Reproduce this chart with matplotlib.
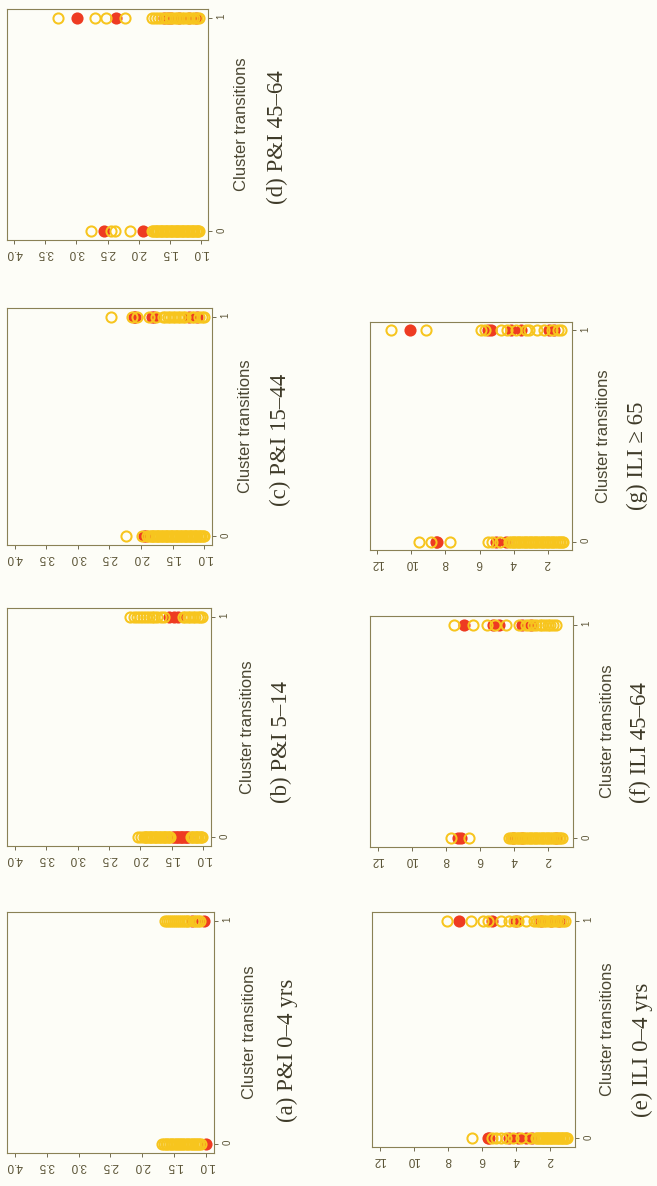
import matplotlib
matplotlib.use('Agg')
import matplotlib.pyplot as plt

plt.rcParams['font.family'] = ['Liberation Sans', 'DejaVu Sans']

# values read per panel: open circles / filled red circles at cluster transition 0 and 1
a_open0 = [1.69, 1.66, 1.63, 1.61, 1.58, 1.56, 1.53, 1.51, 1.48, 1.46, 1.43, 1.41, 1.38, 1.36, 1.33,
           1.31, 1.28, 1.26, 1.23, 1.21, 1.18, 1.16, 1.13, 1.11, 1.09]
a_red0 = [1.01]
a_open1 = [1.64, 1.61, 1.58, 1.55, 1.52, 1.49, 1.46, 1.43, 1.40, 1.37, 1.34, 1.31, 1.28, 1.19,
           1.16, 1.13, 1.10]
a_red1 = [1.23, 1.03]

b_open0 = [2.04, 1.99, 1.95, 1.93, 1.91, 1.89, 1.87, 1.85, 1.83, 1.81, 1.79, 1.77, 1.75, 1.73, 1.71,
           1.69, 1.67, 1.65, 1.63, 1.61, 1.59, 1.57, 1.55, 1.53, 1.20, 1.18, 1.16, 1.14, 1.12, 1.10,
           1.08, 1.06, 1.04, 1.02]
b_red0 = [1.48, 1.46, 1.44, 1.42, 1.40, 1.38, 1.36, 1.34, 1.32, 1.30, 1.28, 1.26, 1.24]
b_open1 = [2.17, 2.10, 2.05, 2.01, 1.96, 1.91, 1.87, 1.82, 1.78, 1.73, 1.68, 1.62, 1.33, 1.29, 1.25,
           1.21, 1.17, 1.13, 1.09, 1.05, 1.02]
b_red1 = [1.54, 1.47, 1.40]

c_open0 = [2.24, 1.99, 1.91, 1.87, 1.85, 1.83, 1.81, 1.79, 1.77, 1.75, 1.73, 1.71, 1.69, 1.67, 1.65,
           1.63, 1.61, 1.59, 1.57, 1.55, 1.53, 1.51, 1.49, 1.47, 1.45, 1.43, 1.41, 1.39, 1.37, 1.35,
           1.33, 1.31, 1.29, 1.27, 1.25, 1.23, 1.21, 1.19, 1.17, 1.15, 1.13, 1.11, 1.09, 1.07, 1.05,
           1.03, 1.01]
c_red0 = [1.95, 1.93]
c_open1 = [2.48, 2.15, 2.06, 1.87, 1.77, 1.66, 1.62, 1.58, 1.54, 1.50, 1.46, 1.42, 1.38, 1.34, 1.30,
           1.20, 1.16, 1.08, 1.04, 1.01]
c_red1 = [2.12, 2.09, 1.83, 1.80, 1.24, 1.11]

d_open0 = [2.76, 2.44, 2.38, 2.14, 1.78, 1.76, 1.74, 1.72, 1.70, 1.68, 1.66, 1.64, 1.62, 1.60, 1.58,
           1.56, 1.54, 1.52, 1.50, 1.48, 1.46, 1.44, 1.42, 1.40, 1.38, 1.36, 1.34, 1.32, 1.30, 1.28,
           1.26, 1.24, 1.22, 1.20, 1.18, 1.16, 1.14, 1.12, 1.10, 1.08, 1.06, 1.04, 1.02]
d_red0 = [2.56, 1.92]
d_open1 = [3.29, 2.70, 2.52, 2.21, 1.78, 1.73, 1.68, 1.63, 1.58, 1.54, 1.50, 1.46, 1.42, 1.38, 1.34,
           1.30, 1.26, 1.22, 1.18, 1.14, 1.10, 1.06, 1.03]
d_red1 = [2.99, 2.36, 1.59, 1.53, 1.48, 1.35, 1.19, 1.08]

e_open0 = [6.56, 5.40, 5.19, 4.90, 4.60, 4.20, 3.70, 3.20, 2.84, 2.76, 2.68, 2.60, 2.52, 2.44, 2.36,
           2.28, 2.20, 2.12, 2.04, 1.96, 1.88, 1.80, 1.72, 1.64, 1.56, 1.48, 1.40, 1.32, 1.24, 1.16,
           1.08, 1.02]
e_red0 = [5.68, 5.60, 4.41, 3.92, 3.43, 3.10]
e_open1 = [8.03, 6.66, 5.97, 5.68, 4.90, 4.41, 4.12, 3.90, 3.43, 2.94, 2.80, 2.66, 2.52, 2.38, 2.24,
           2.10, 1.96, 1.82, 1.68, 1.54, 1.40, 1.26, 1.14]
e_red1 = [7.34, 5.39, 4.02, 2.55, 1.96, 1.47]

f_open0 = [7.71, 6.64, 4.30, 4.20, 4.10, 4.00, 3.90, 3.80, 3.70, 3.60, 3.50, 3.40, 3.30, 3.20, 3.10,
           3.00, 2.90, 2.80, 2.70, 2.60, 2.50, 2.40, 2.30, 2.20, 2.10, 2.00, 1.90, 1.80, 1.70, 1.60,
           1.50, 1.40, 1.30, 1.20]
f_red0 = [7.30, 7.10, 4.05, 3.55, 1.55]
f_open1 = [7.52, 6.44, 5.57, 5.10, 4.50, 3.72, 3.33, 3.15, 2.90, 2.70, 2.50, 2.35, 2.20, 2.05, 1.90,
           1.75, 1.57]
f_red1 = [6.93, 5.27, 4.88, 3.52, 3.03]

g_open0 = [9.56, 8.84, 7.72, 5.52, 5.25, 4.80, 4.25, 4.15, 4.05, 3.95, 3.85, 3.75, 3.65, 3.55, 3.45,
           3.35, 3.25, 3.15, 3.05, 2.95, 2.85, 2.75, 2.65, 2.55, 2.45, 2.35, 2.25, 2.15, 2.05, 1.95,
           1.85, 1.75, 1.65, 1.55, 1.45, 1.35, 1.25, 1.15, 1.06]
g_red0 = [8.58, 8.50, 5.03, 4.44]
g_open1 = [11.18, 9.17, 5.91, 5.70, 4.73, 4.40, 3.86, 3.27, 3.07, 2.59, 2.20, 1.75, 1.40, 1.22]
g_red1 = [10.11, 5.52, 5.32, 4.15, 3.56, 1.90, 1.61]

pi_ticks = [1.0, 1.5, 2.0, 2.5, 3.0, 3.5, 4.0]
ili_ticks = [2, 4, 6, 8, 10, 12]
trans_ticks = [0, 1]

captions = ['(a) P&I 0–4 yrs', '(b) P&I 5–14', '(c) P&I 15–44', '(d) P&I 45–64',
            '(e) ILI 0–4 yrs', '(f) ILI 45–64', '(g) ILI ≥ 65']

W, H = 657, 1186
bg = '#fdfdf7'
ink = '#5b5436'
yellow = '#f7c51e'
red = '#ee3b22'

fig = plt.figure(figsize=(W / 100, H / 100), dpi=100, facecolor=bg)

# pixel boxes (x0, y0, x1, y1) of each panel in the page, plus label/caption spots
panels = [
    ((7, 912, 214, 1153), a_open0, a_open1, a_red0, a_red1, 'pi', 250, 287, 1050),
    ((7, 608, 211, 846), b_open0, b_open1, b_red0, b_red1, 'pi', 247, 281, 742),
    ((7, 308, 212, 545), c_open0, c_open1, c_red0, c_red1, 'pi', 245, 280, 440),
    ((7, 9, 208, 240), d_open0, d_open1, d_red0, d_red1, 'pi', 242, 277, 137),
    ((372, 912, 575, 1147), e_open0, e_open1, e_red0, e_red1, 'ili', 608, 642, 1050),
    ((370, 616, 573, 847), f_open0, f_open1, f_red0, f_red1, 'ili', 607, 640, 743),
    ((370, 322, 572, 550), g_open0, g_open1, g_red0, g_red1, 'ili', 603, 637, 456),
]

for i, (box, o0, o1, r0, r1, kind, lab_x, cap_x, cap_y) in enumerate(panels):
    x0, y0, x1, y1 = box
    ax = fig.add_axes([x0 / W, 1 - y1 / H, (x1 - x0) / W, (y1 - y0) / H])
    ax.set_facecolor(bg)
    ms, mew = 7.3, 1.45
    ax.plot(r0, [0] * len(r0), 'o', color=red, ms=ms + mew, mew=0)
    ax.plot(r1, [1] * len(r1), 'o', color=red, ms=ms + mew, mew=0)
    ax.plot(o0, [0] * len(o0), 'o', mfc='none', mec=yellow, ms=ms, mew=mew)
    ax.plot(o1, [1] * len(o1), 'o', mfc='none', mec=yellow, ms=ms, mew=mew)

    if kind == 'pi':
        ax.set_xlim(4.12, 0.88)
        ax.set_xticks(pi_ticks)
        ax.set_xticklabels(['%.1f' % t for t in pi_ticks])
    else:
        ax.set_xlim(12.44, 0.56)
        ax.set_xticks(ili_ticks)
        ax.set_xticklabels([str(t) for t in ili_ticks])
    ax.set_ylim(-0.04, 1.04)
    ax.set_yticks(trans_ticks)
    ax.set_yticklabels([str(t) for t in trans_ticks])
    ax.yaxis.tick_right()

    ax.tick_params(axis='x', direction='out', length=3, width=0.6, color=ink,
                   labelcolor=ink, labelsize=8.5, labelrotation=180, pad=2)
    ax.tick_params(axis='y', direction='out', length=3, width=0.6, color=ink,
                   labelcolor=ink, labelsize=7, labelrotation=90, pad=3)
    for sp in ax.spines.values():
        sp.set_color('#8a8155')
        sp.set_linewidth(0.8)

    yc = 1 - (y0 + y1) / 2 / H
    fig.text(lab_x / W, yc, 'Cluster transitions', rotation=90, ha='center', va='center',
             fontsize=12, color='#4a4632')
    fig.text(cap_x / W, 1 - cap_y / H, captions[i], rotation=90, ha='center', va='center',
             fontsize=16.5, color='#3e3a28', family=['Liberation Serif', 'DejaVu Serif'])

fig.savefig('out.png', dpi=100, facecolor=bg)
